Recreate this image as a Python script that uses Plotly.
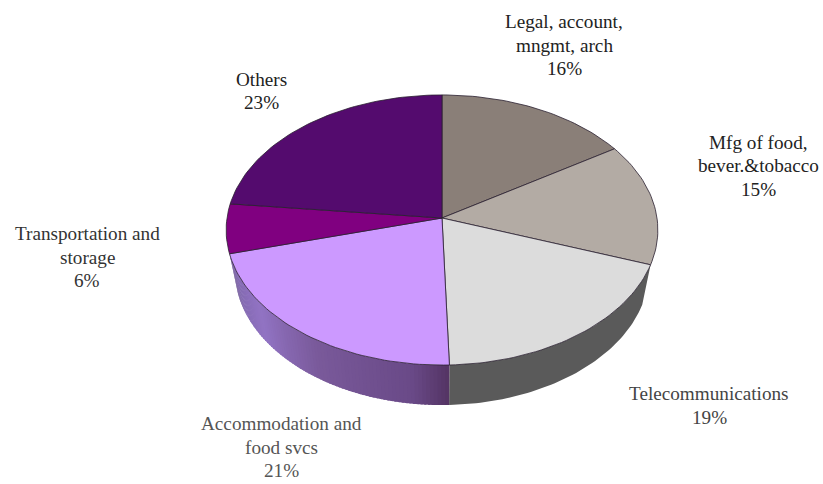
import math
import plotly.graph_objects as go

categories = ["Legal, account,<br>mngmt, arch", "Mfg of food,<br>bever.&tobacco", "Telecommunications",
              "Accommodation and<br>food svcs", "Transportation and<br>storage", "Others"]
shares = [15.9, 14.6, 19.0, 21.3, 5.9, 23.3]
top_colors = ["#8a7f78", "#b3aba4", "#dcdcdc", "#cc99ff", "#800080", "#540b6e"]
label_x = [564, 758, 709, 281, 87, 261]
label_y = [45, 165.5, 405.5, 447, 257, 91]
label_colors = ["#222222", "#222222", "#444444", "#555555", "#333333", "#222222"]

CX, CY, RX, RY, P, DEPTH, BOTTOM_SCALE = 442, 218, 215, 134, 0.0889, 40, 0.96
LINE_STEP = 23.5


def project(theta):
    X, Y = math.sin(theta), math.cos(theta)
    d = 1 + P * Y
    return CX + RX * X / d, CY - RY * Y / d


def lerp(stops, t):
    for (a, ca), (b, cb) in zip(stops, stops[1:]):
        if t <= b:
            f = (t - a) / (b - a)
            return "rgb(%d,%d,%d)" % tuple(ca[i] + (cb[i] - ca[i]) * f for i in range(3))
    return "rgb(%d,%d,%d)" % stops[-1][1]


fig = go.Figure()
# t runs from the telecom boundary (bottom) round to the left tip
acc_stops = [(0, (84, 52, 100)), (0.12, (106, 74, 136)), (0.45, (122, 90, 155)), (0.72, (146, 116, 196)),
             (0.9, (132, 106, 178)), (1, (112, 88, 150))]

total = sum(shares)
bounds = [0]
for s in shares:
    bounds.append(bounds[-1] + s / total * 2 * math.pi)

# side walls
for i, n, m in ((2, 1, 60), (3, 80, 3)):
    a, b = bounds[i], bounds[i + 1]
    for k in range(n):
        t0 = a + (b - a) * k / n
        t1 = min(a + (b - a) * (k + 1.6) / n, b)
        pts = [project(t0 + (t1 - t0) * j / m) for j in range(m + 1)]
        xs = [p[0] for p in pts] + [CX + (p[0] - CX) * BOTTOM_SCALE for p in reversed(pts)]
        ys = [p[1] for p in pts] + [p[1] + DEPTH for p in reversed(pts)]
        col = lerp(acc_stops, (k + .5) / n) if i == 3 else "#5a5a5a"
        fig.add_trace(go.Scatter(x=xs, y=ys, mode="lines", fill="toself", fillcolor=col,
                                 line=dict(width=0), hoverinfo="skip", showlegend=False))

# top face
for i, s in enumerate(shares):
    a, b = bounds[i], bounds[i + 1]
    n = max(8, int((b - a) * 40))
    pts = [project(a + (b - a) * j / n) for j in range(n + 1)]
    xs = [CX] + [p[0] for p in pts] + [CX]
    ys = [CY] + [p[1] for p in pts] + [CY]
    fig.add_trace(go.Scatter(x=xs, y=ys, mode="lines", fill="toself", fillcolor=top_colors[i],
                             line=dict(color="#2a2030", width=0.8), hoverinfo="skip", showlegend=False))

for name, s, x, y, c in zip(categories, shares, label_x, label_y, label_colors):
    lines = name.split("<br>") + [f"{round(s / total * 100)}%"]
    for j, line in enumerate(lines):
        fig.add_annotation(x=x, y=y + (j - (len(lines) - 1) / 2) * LINE_STEP, text=line, showarrow=False,
                           font=dict(family="Liberation Serif", size=19.2, color=c), align="center",
                           xanchor="center", yanchor="middle")

fig.update_layout(width=823, height=484, margin=dict(l=0, r=0, t=0, b=0), paper_bgcolor="white",
                  plot_bgcolor="white", showlegend=False,
                  xaxis=dict(range=[0, 823], visible=False, fixedrange=True),
                  yaxis=dict(range=[484, 0], visible=False, fixedrange=True))
fig.write_html("out.html", config={"displayModeBar": False}, default_width="823px", default_height="484px",
               post_script="document.body.style.margin='0';document.body.style.overflow='hidden';")
